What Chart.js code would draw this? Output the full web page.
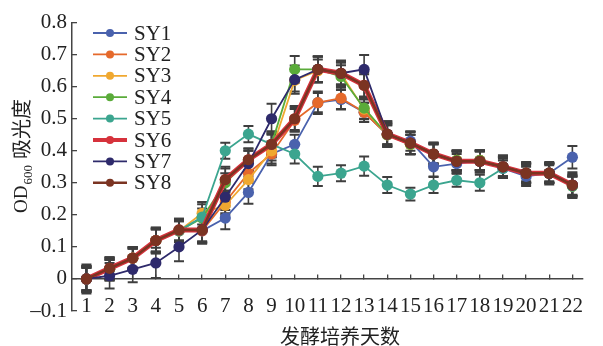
<!DOCTYPE html>
<html><head><meta charset="utf-8">
<script src="https://cdn.jsdelivr.net/npm/chart.js@4.4.0/dist/chart.umd.min.js"></script>
<style>html,body{margin:0;padding:0;background:#fff;}#wrap{width:603px;height:346px;position:relative;}</style>
</head><body><div id="wrap"><canvas id="c" width="603" height="346"></canvas></div>
<script>
const days = [1,2,3,4,5,6,7,8,9,10,11,12,13,14,15,16,17,18,19,20,21,22];
const seriesNames = ['SY1','SY2','SY3','SY4','SY5','SY6','SY7','SY8'];
const sy1 = [0,0.03,0.065,0.12,0.15,0.15,0.19,0.27,0.39,0.42,0.55,0.56,0.52,0.45,0.43,0.35,0.36,0.37,0.345,0.32,0.33,0.38];
const sy2 = [0,0.03,0.065,0.12,0.15,0.15,0.24,0.33,0.39,0.495,0.55,0.564,0.52,0.45,0.42,0.39,0.37,0.37,0.35,0.33,0.33,0.29];
const sy3 = [0,0.03,0.065,0.12,0.15,0.205,0.23,0.31,0.40,0.62,0.65,0.64,0.53,0.45,0.42,0.39,0.37,0.37,0.35,0.33,0.33,0.29];
const sy4 = [0,0.03,0.065,0.12,0.15,0.19,0.30,0.37,0.42,0.654,0.654,0.632,0.533,0.45,0.42,0.39,0.37,0.37,0.35,0.33,0.33,0.29];
const sy5 = [0,0.03,0.065,0.12,0.15,0.193,0.40,0.452,0.42,0.39,0.32,0.33,0.352,0.293,0.265,0.293,0.308,0.30,0.345,0.33,0.33,0.29];
const sy6 = [0,0.033,0.065,0.12,0.153,0.153,0.31,0.372,0.42,0.50,0.654,0.642,0.604,0.452,0.424,0.39,0.367,0.367,0.35,0.33,0.33,0.293];
const sy7 = [0,0.01,0.03,0.05,0.10,0.153,0.255,0.36,0.50,0.622,0.654,0.642,0.654,0.452,0.424,0.39,0.367,0.367,0.35,0.33,0.33,0.293];
const sy8 = [0,0.033,0.065,0.12,0.153,0.153,0.31,0.372,0.42,0.50,0.654,0.642,0.604,0.452,0.424,0.39,0.367,0.367,0.35,0.33,0.33,0.293];
const err1 = [0.035,0.03,0.03,0.035,0.035,0.035,0.035,0.035,0.03,0.03,0.03,0.03,0.03,0.035,0.03,0.03,0.03,0.03,0.03,0.03,0.03,0.035];
const err2 = [0.04,0.035,0.035,0.04,0.035,0.04,0.035,0.03,0.035,0.035,0.035,0.035,0.03,0.03,0.03,0.035,0.03,0.03,0.03,0.03,0.03,0.035];
const err3 = [0.035,0.03,0.03,0.035,0.03,0.035,0.03,0.03,0.03,0.035,0.035,0.035,0.03,0.03,0.03,0.03,0.03,0.03,0.03,0.03,0.03,0.03];
const err4 = [0.035,0.03,0.03,0.035,0.03,0.03,0.03,0.03,0.04,0.042,0.04,0.035,0.035,0.035,0.03,0.03,0.03,0.03,0.03,0.03,0.03,0.03];
const err5 = [0.04,0.035,0.035,0.04,0.035,0.04,0.025,0.025,0.03,0.03,0.03,0.025,0.03,0.025,0.02,0.025,0.02,0.025,0.025,0.025,0.025,0.03];
const err6 = [0.04,0.035,0.035,0.04,0.035,0.04,0.04,0.035,0.04,0.04,0.04,0.035,0.035,0.04,0.035,0.035,0.03,0.035,0.035,0.03,0.03,0.035];
const err7 = [0.04,0.04,0.04,0.047,0.045,0.04,0.04,0.04,0.047,0.044,0.04,0.035,0.045,0.035,0.035,0.035,0.03,0.035,0.035,0.03,0.03,0.03];
const err8 = [0.045,0.035,0.03,0.035,0.035,0.035,0.035,0.035,0.035,0.035,0.04,0.04,0.04,0.04,0.035,0.03,0.035,0.03,0.03,0.035,0.035,0.04];
const xTitle = '发酵培养天数';
const yTitleMain = 'OD';
const yTitleSub = '600';
const yTitleRest = '吸光度';

const seriesValues = [sy1,sy2,sy3,sy4,sy5,sy6,sy7,sy8];
const seriesErrors = [err1,err2,err3,err4,err5,err6,err7,err8];
const seriesColors = ['#4a62ad','#e5692b','#f0a830','#5aab3a','#3ba58f','#d6323c','#2e2a6b','#7b3422'];
const lineWidths = [1.8,1.8,1.8,1.8,1.8,5,1.8,2.5];

const SERIF = '"Liberation Serif", "Times New Roman", serif';
const CJK = '"Noto Sans CJK SC", sans-serif';

const datasets = seriesNames.map((name,i)=>({
  label: name,
  data: days.map((d,j)=>({x:d, y:seriesValues[i][j]})),
  errors: seriesErrors[i],
  borderColor: seriesColors[i],
  backgroundColor: seriesColors[i],
  pointBackgroundColor: seriesColors[i],
  pointBorderColor: seriesColors[i],
  pointBorderWidth: 0,
  pointRadius: 5.6,
  borderWidth: lineWidths[i],
  order: seriesNames.length - i,
  tension: 0
}));

const errorBars = {
  id: 'errorBars',
  beforeDatasetsDraw(chart){
    const ctx = chart.ctx, xs = chart.scales.x, ys = chart.scales.y;
    ctx.save();
    ctx.strokeStyle = '#3e3e3e';
    chart.data.datasets.forEach(ds=>{
      ds.data.forEach((p,j)=>{
        const e = ds.errors[j];
        const x = xs.getPixelForValue(p.x);
        const y1 = ys.getPixelForValue(p.y + e);
        const y2 = ys.getPixelForValue(p.y - e);
        ctx.lineWidth = 1.6;
        ctx.beginPath();
        ctx.moveTo(x,y1); ctx.lineTo(x,y2);
        ctx.stroke();
        ctx.lineWidth = 2;
        ctx.beginPath();
        ctx.moveTo(x-5,y1); ctx.lineTo(x+5,y1);
        ctx.moveTo(x-5,y2); ctx.lineTo(x+5,y2);
        ctx.stroke();
      });
    });
    ctx.restore();
  }
};

const decorations = {
  id: 'decorations',
  afterDraw(chart){
    const ctx = chart.ctx;
    ctx.save();
    chart.data.datasets.forEach((ds,i)=>{
      const y = 33 + i*21.4;
      ctx.strokeStyle = ds.borderColor;
      ctx.lineWidth = Math.min(ds.borderWidth, 4);
      ctx.beginPath(); ctx.moveTo(93,y); ctx.lineTo(127,y); ctx.stroke();
      ctx.fillStyle = ds.borderColor;
      ctx.beginPath(); ctx.arc(110,y,4,0,Math.PI*2); ctx.fill();
      ctx.fillStyle = '#222';
      ctx.font = '21px ' + SERIF;
      ctx.textBaseline = 'middle';
      ctx.textAlign = 'left';
      ctx.fillText(ds.label, 134, y+1);
    });
    ctx.font = '20px ' + CJK;
    ctx.textAlign = 'center';
    ctx.textBaseline = 'middle';
    ctx.fillStyle = '#222';
    ctx.fillText(xTitle, 340, 336);
    ctx.translate(20, 155);
    ctx.rotate(-Math.PI/2);
    ctx.textAlign = 'left';
    ctx.textBaseline = 'alphabetic';
    let x = -58;
    ctx.font = '19px ' + SERIF;
    ctx.fillText(yTitleMain, x, 7);
    x += ctx.measureText(yTitleMain).width + 1;
    ctx.font = '13px ' + SERIF;
    ctx.fillText(yTitleSub, x, 12);
    x += ctx.measureText(yTitleSub).width + 6;
    ctx.font = '20px ' + CJK;
    ctx.fillText(yTitleRest, x, 9);
    ctx.restore();
  }
};

new Chart(document.getElementById('c'), {
  type: 'line',
  data: { datasets },
  options: {
    responsive: false,
    animation: false,
    devicePixelRatio: 1,
    layout: { padding: { top: 22, bottom: 35, left: 0, right: 0 } },
    plugins: { legend: { display: false }, tooltip: { enabled: false }, title: { display: false } },
    scales: {
      x: {
        type: 'linear',
        position: { y: 0 },
        min: 0.3762,
        max: 22.457,
        afterBuildTicks: s => { s.ticks = days.map(d=>({value:d})); },
        border: { display: true, color: '#444', width: 1.5 },
        grid: { display: true, drawOnChartArea: false, drawTicks: true, tickLength: -5, color: '#444', lineWidth: 1.3 },
        ticks: { autoSkip: false, maxRotation: 0, minRotation: 0, padding: 20, color: '#222', font: { family: SERIF, size: 21 }, callback: v => String(v) }
      },
      y: {
        type: 'linear',
        position: 'left',
        min: -0.1,
        max: 0.8,
        afterFit: s => { s.width = 72; },
        border: { display: true, color: '#444', width: 1.5 },
        grid: { display: true, drawOnChartArea: false, drawTicks: true, tickLength: -5, color: '#444', lineWidth: 1.3 },
        ticks: { stepSize: 0.1, padding: 10, color: '#222', font: { family: SERIF, size: 21 },
          callback: v => { const r = Math.round(v*10)/10; if (r === 0) return '0'; return r < 0 ? '\u2013' + Math.abs(r).toFixed(1) : r.toFixed(1); } }
      }
    }
  },
  plugins: [errorBars, decorations]
});
</script>
</body></html>
